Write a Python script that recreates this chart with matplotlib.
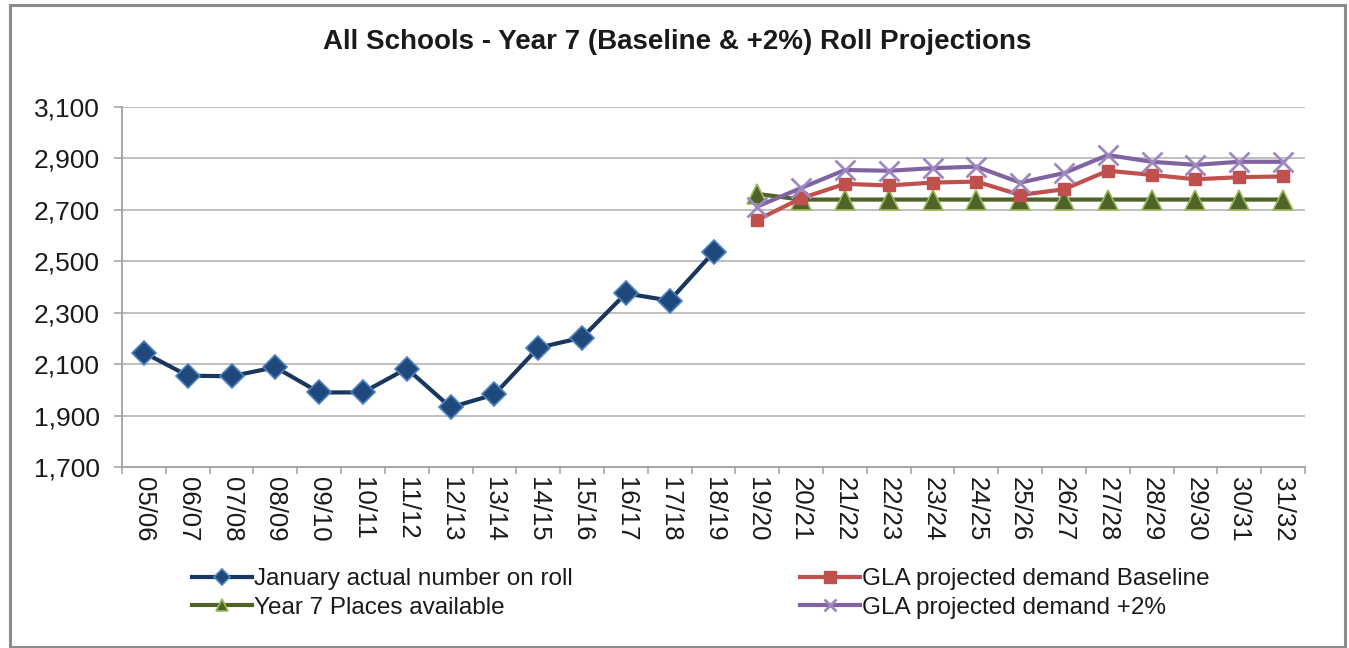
import matplotlib
matplotlib.use('Agg')
import matplotlib.pyplot as plt
from matplotlib.ticker import FuncFormatter, FixedLocator
from matplotlib.patches import Rectangle

plt.rcParams['font.family'] = ['Liberation Sans', 'DejaVu Sans']

years = ['05/06', '06/07', '07/08', '08/09', '09/10', '10/11', '11/12', '12/13',
         '13/14', '14/15', '15/16', '16/17', '17/18', '18/19', '19/20', '20/21',
         '21/22', '22/23', '23/24', '24/25', '25/26', '26/27', '27/28', '28/29',
         '29/30', '30/31', '31/32']
actual = [2145, 2055, 2053, 2088, 1990, 1990, 2083, 1932, 1982, 2164, 2203,
          2375, 2347, 2535]
baseline = [2661, 2745, 2801, 2795, 2806, 2810, 2758, 2780, 2852, 2836, 2819,
            2827, 2830]
plus2 = [2713, 2785, 2855, 2852, 2862, 2868, 2806, 2843, 2913, 2887, 2875,
         2887, 2887]
places = [2762, 2740, 2740, 2740, 2740, 2740, 2740, 2740, 2740, 2740, 2740,
          2740, 2740]
yticks = [1700, 1900, 2100, 2300, 2500, 2700, 2900, 3100]
title = 'All Schools - Year 7 (Baseline & +2%) Roll Projections'
labels = ['January actual number on roll', 'Year 7 Places available',
          'GLA projected demand Baseline', 'GLA projected demand +2%']

W, H = 1349, 648
fig = plt.figure(figsize=(W / 100, H / 100), dpi=100)
ax = fig.add_axes([122 / W, 1 - 467 / H, (1305 - 122) / W, (467 - 107) / H])

x_act = list(range(len(actual)))
x_proj = list(range(len(actual), len(years)))

l1, = ax.plot(x_act, actual, color='#17375E', lw=3, marker='D', ms=12,
              mfc='#1F497D', mec='#4F81BD', mew=1.2, zorder=4)
l3, = ax.plot(x_proj, baseline, color='#C0504D', lw=3, marker='s', ms=9,
              mfc='#C0504D', mec='#C0504D', zorder=4)
l4, = ax.plot(x_proj, plus2, color='#8064A2', lw=3, marker='x', ms=14,
              mec='#9F88C0', mew=2, zorder=5)
l2, = ax.plot(x_proj, places, color='#4F6228', lw=3, marker='^', ms=14,
              mfc='#4F6228', mec='#9BBB59', mew=1.2, zorder=3)

ax.set_xlim(-0.5, len(years) - 0.5)
ax.set_ylim(1700, 3100)
ax.set_yticks(yticks)
ax.yaxis.set_major_formatter(FuncFormatter(lambda v, p: f'{int(v):,}'))
ax.set_xticks(range(len(years)))
ax.set_xticklabels(years, rotation=-90)
ax.xaxis.set_minor_locator(FixedLocator([i - 0.5 for i in range(len(years) + 1)]))
ax.tick_params(axis='x', which='major', length=0, pad=7, labelsize=18.5,
               labelcolor='#1a1a1a')
ax.tick_params(axis='x', which='minor', length=5, width=1.2, color='#A6A6A6')
ax.tick_params(axis='y', length=6, width=1.2, color='#A6A6A6', pad=10,
               labelsize=19, labelcolor='#1a1a1a')
ax.grid(axis='y', color='#BFBFBF', lw=1.4)
ax.set_axisbelow(True)
for s in ['top', 'right']:
    ax.spines[s].set_visible(False)
for s in ['left', 'bottom']:
    ax.spines[s].set_color('#A6A6A6')
    ax.spines[s].set_linewidth(1.4)

fig.text(677 / W, 1 - 42 / H, title, ha='center', va='center', fontsize=20,
         fontweight='bold', color='#1a1a1a')

common = dict(loc='upper left', frameon=False, fontsize=17.5, handlelength=2.45,
              handletextpad=0.1, labelspacing=0.28, borderaxespad=0, borderpad=0)
leg1 = fig.legend([l1, l2], labels[:2], bbox_to_anchor=(192 / W, 1 - 568 / H),
                  **common)
leg2 = fig.legend([l3, l4], labels[2:], bbox_to_anchor=(800 / W, 1 - 568 / H),
                  **common)
for leg in (leg1, leg2):
    for h in leg.legend_handles:
        h.set_markersize(8)
    for t in leg.get_texts():
        t.set_color('#1a1a1a')

fig.patches.append(Rectangle((10 / W, 1 / H), (1345 - 10) / W, (643 - 1) / H,
                             transform=fig.transFigure, fill=False,
                             edgecolor='#8C8C8C', lw=2.2))

fig.savefig('out.png', dpi=100)
